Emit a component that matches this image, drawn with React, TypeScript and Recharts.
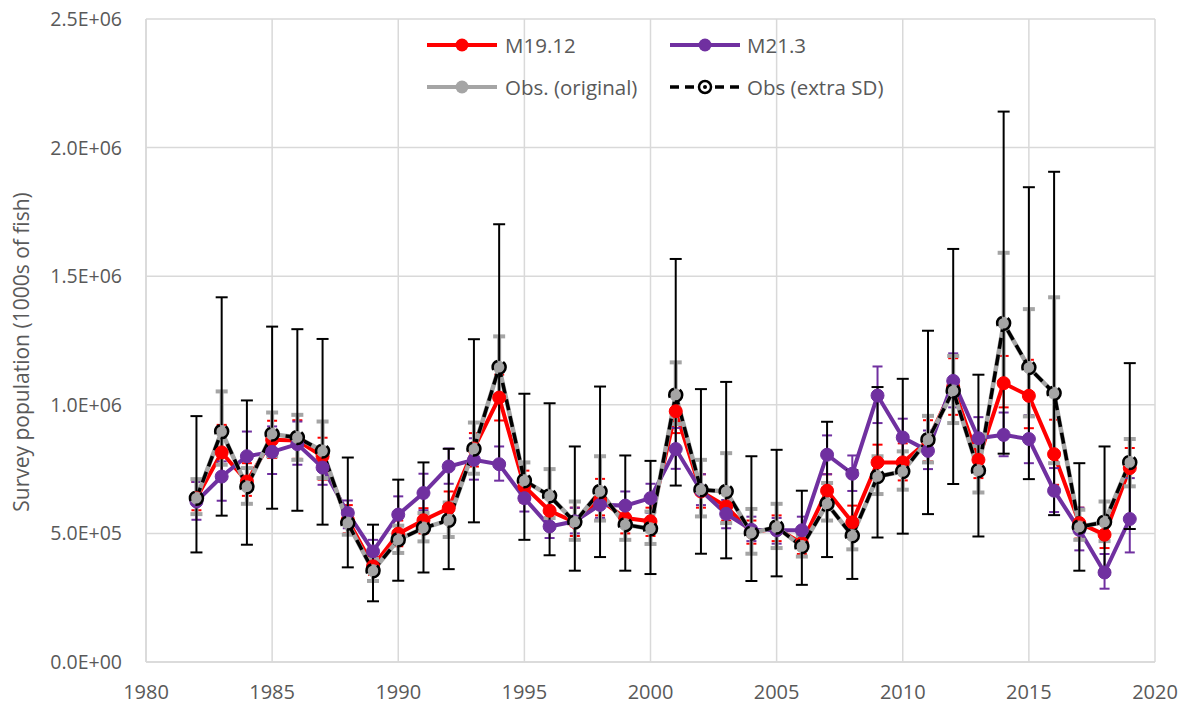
import React from 'react';
import { ComposedChart, Line, XAxis, YAxis, CartesianGrid, ErrorBar } from 'recharts';

const years = [1982, 1983, 1984, 1985, 1986, 1987, 1988, 1989, 1990, 1991, 1992, 1993, 1994, 1995, 1996, 1997, 1998, 1999, 2000, 2001, 2002, 2003, 2004, 2005, 2006, 2007, 2008, 2009, 2010, 2011, 2012, 2013, 2014, 2015, 2016, 2017, 2018, 2019];

// values in millions of (1000s of fish)
const obs = [0.637, 0.896, 0.681, 0.886, 0.873, 0.820, 0.540, 0.355, 0.475, 0.521, 0.551, 0.828, 1.146, 0.705, 0.646, 0.544, 0.663, 0.534, 0.518, 1.038, 0.670, 0.663, 0.501, 0.525, 0.449, 0.615, 0.491, 0.721, 0.741, 0.864, 1.054, 0.744, 1.317, 1.145, 1.045, 0.525, 0.544, 0.776];
const obsLow = [0.575, 0.767, 0.615, 0.800, 0.786, 0.715, 0.495, 0.315, 0.424, 0.469, 0.486, 0.732, 1.040, 0.640, 0.560, 0.475, 0.550, 0.475, 0.459, 0.925, 0.566, 0.540, 0.421, 0.443, 0.410, 0.550, 0.438, 0.653, 0.670, 0.776, 0.929, 0.659, 1.090, 0.955, 0.773, 0.475, 0.470, 0.683];
const obsHigh = [0.711, 1.052, 0.754, 0.970, 0.961, 0.935, 0.590, 0.400, 0.530, 0.579, 0.620, 0.931, 1.266, 0.776, 0.750, 0.624, 0.800, 0.600, 0.585, 1.165, 0.786, 0.812, 0.595, 0.615, 0.490, 0.696, 0.550, 0.800, 0.819, 0.957, 1.190, 0.840, 1.591, 1.372, 1.418, 0.592, 0.624, 0.867];
const extLow = [0.426, 0.569, 0.456, 0.596, 0.588, 0.534, 0.368, 0.236, 0.316, 0.348, 0.361, 0.543, 0.772, 0.475, 0.415, 0.355, 0.408, 0.355, 0.342, 0.686, 0.421, 0.403, 0.315, 0.333, 0.300, 0.408, 0.323, 0.484, 0.499, 0.575, 0.692, 0.488, 0.810, 0.711, 0.571, 0.355, 0.353, 0.517];
const extHigh = [0.956, 1.418, 1.017, 1.304, 1.294, 1.256, 0.795, 0.534, 0.709, 0.776, 0.829, 1.255, 1.702, 1.043, 1.006, 0.838, 1.071, 0.803, 0.782, 1.567, 1.061, 1.089, 0.800, 0.825, 0.666, 0.934, 0.746, 1.069, 1.101, 1.288, 1.606, 1.117, 2.140, 1.846, 1.906, 0.773, 0.838, 1.162];

const m19 = [0.637, 0.815, 0.702, 0.864, 0.861, 0.800, 0.553, 0.372, 0.499, 0.551, 0.598, 0.830, 1.028, 0.683, 0.588, 0.544, 0.630, 0.560, 0.547, 0.975, 0.663, 0.605, 0.504, 0.520, 0.462, 0.666, 0.543, 0.776, 0.776, 0.860, 1.070, 0.786, 1.084, 1.035, 0.808, 0.540, 0.495, 0.754];
const m19Low = [0.590, 0.710, 0.646, 0.793, 0.790, 0.709, 0.500, 0.339, 0.450, 0.500, 0.540, 0.760, 0.939, 0.620, 0.530, 0.490, 0.570, 0.500, 0.490, 0.890, 0.600, 0.550, 0.460, 0.470, 0.420, 0.610, 0.490, 0.710, 0.706, 0.780, 0.961, 0.715, 0.990, 0.909, 0.689, 0.480, 0.443, 0.683];
const m19High = [0.700, 0.922, 0.773, 0.938, 0.940, 0.872, 0.610, 0.410, 0.550, 0.598, 0.663, 0.890, 1.117, 0.744, 0.650, 0.600, 0.712, 0.620, 0.600, 1.054, 0.730, 0.670, 0.550, 0.570, 0.510, 0.730, 0.608, 0.845, 0.850, 0.940, 1.181, 0.860, 1.190, 1.175, 0.942, 0.600, 0.550, 0.832];

const m21 = [0.624, 0.721, 0.800, 0.817, 0.847, 0.756, 0.579, 0.430, 0.573, 0.657, 0.760, 0.786, 0.769, 0.637, 0.527, 0.547, 0.611, 0.608, 0.637, 0.828, 0.667, 0.576, 0.514, 0.512, 0.512, 0.806, 0.732, 1.036, 0.873, 0.821, 1.093, 0.870, 0.883, 0.867, 0.666, 0.514, 0.348, 0.556];
const m21Low = [0.553, 0.627, 0.709, 0.731, 0.767, 0.689, 0.520, 0.390, 0.510, 0.590, 0.693, 0.709, 0.705, 0.585, 0.482, 0.500, 0.560, 0.555, 0.580, 0.751, 0.610, 0.520, 0.470, 0.460, 0.465, 0.730, 0.665, 0.929, 0.790, 0.750, 0.990, 0.790, 0.800, 0.773, 0.583, 0.434, 0.285, 0.426];
const m21High = [0.700, 0.780, 0.896, 0.916, 0.935, 0.830, 0.628, 0.475, 0.644, 0.732, 0.830, 0.870, 0.838, 0.700, 0.580, 0.600, 0.670, 0.663, 0.693, 0.910, 0.730, 0.630, 0.565, 0.560, 0.565, 0.881, 0.803, 1.149, 0.946, 0.900, 1.200, 0.952, 0.970, 0.960, 0.754, 0.600, 0.420, 0.715];

const xTicks = [1980, 1985, 1990, 1995, 2000, 2005, 2010, 2015, 2020];
const yTicks = [0, 500000, 1000000, 1500000, 2000000, 2500000];

const SCALE = 1e6;
const data = years.map((year, i) => ({
  year,
  m19: m19[i] * SCALE,
  m19Err: [(m19[i] - m19Low[i]) * SCALE, (m19High[i] - m19[i]) * SCALE],
  m21: m21[i] * SCALE,
  m21Err: [(m21[i] - m21Low[i]) * SCALE, (m21High[i] - m21[i]) * SCALE],
  obs: obs[i] * SCALE,
  obsErr: [(obs[i] - obsLow[i]) * SCALE, (obsHigh[i] - obs[i]) * SCALE],
  ext: obs[i] * SCALE,
  extErr: [(obs[i] - extLow[i]) * SCALE, (extHigh[i] - obs[i]) * SCALE],
}));

const fmtSci = (v: number) => {
  if (v === 0) return '0.0E+00';
  const e = Math.floor(Math.log10(v) + 1e-9);
  const m = v / Math.pow(10, e);
  return `${m.toFixed(1)}E+${String(e).padStart(2, '0')}`;
};

const FONT = '"Open Sans", "Noto Sans", sans-serif';
const TXT = '#595959';
const RED = '#FF0000';
const PURPLE = '#7030A0';
const GRAY = '#A5A5A5';

const LegendBox = () => (
  <svg width={500} height={80} style={{ display: 'block' }}>
    <g fontFamily={FONT} fontSize={20.5} fill={TXT}>
      <line x1={8} y1={17} x2={78} y2={17} stroke={RED} strokeWidth={4} />
      <circle cx={43} cy={17} r={6.5} fill={RED} />
      <text x={86} y={24.5}>M19.12</text>
      <line x1={251} y1={17} x2={321} y2={17} stroke={PURPLE} strokeWidth={4} />
      <circle cx={286} cy={17} r={6.5} fill={PURPLE} />
      <text x={328} y={24.5}>M21.3</text>
      <line x1={8} y1={59} x2={78} y2={59} stroke={GRAY} strokeWidth={4} />
      <circle cx={43} cy={59} r={6.5} fill={GRAY} />
      <text x={86} y={66.5}>Obs. (original)</text>
      <line x1={251} y1={59} x2={321} y2={59} stroke="#000" strokeWidth={3.5} strokeDasharray="9 6" />
      <circle cx={286} cy={59} r={6} fill="#fff" stroke="#000" strokeWidth={2.5} />
      <circle cx={286} cy={59} r={2} fill="#000" />
      <text x={328} y={66.5}>Obs (extra SD)</text>
    </g>
  </svg>
);

export default function App() {
  return (
    <div style={{ width: 1179, height: 700, position: 'relative' }}>
      <ComposedChart
        width={1179}
        height={700}
        data={data}
        margin={{ top: 11, right: 32, bottom: 6, left: 58 }}
      >
        <CartesianGrid stroke="#D9D9D9" strokeWidth={1.5} />
        <XAxis
          dataKey="year"
          type="number"
          domain={[1980, 2020]}
          ticks={xTicks}
          tickLine={false}
          tickSize={0}
          tickMargin={23}
          height={40}
          axisLine={{ stroke: '#D9D9D9', strokeWidth: 1.5 }}
          tick={{ fill: TXT, fontSize: 20, fontFamily: FONT }}
          allowDataOverflow
        />
        <YAxis
          type="number"
          domain={[0, 2500000]}
          ticks={yTicks}
          tickFormatter={fmtSci}
          tickLine={false}
          tickSize={0}
          tickMargin={24}
          width={80}
          axisLine={{ stroke: '#D9D9D9', strokeWidth: 1.5 }}
          tick={{ fill: TXT, fontSize: 19.5, fontFamily: FONT }}
          allowDataOverflow
        />
        <Line
          dataKey="m19"
          stroke={RED}
          strokeWidth={4}
          dot={{ r: 6.5, fill: RED, stroke: RED, strokeWidth: 1 }}
          isAnimationActive={false}
        >
          <ErrorBar dataKey="m19Err" direction="y" width={5} stroke={RED} strokeWidth={2} />
        </Line>
        <Line
          dataKey="m21"
          stroke={PURPLE}
          strokeWidth={4}
          dot={{ r: 6.5, fill: PURPLE, stroke: PURPLE, strokeWidth: 1 }}
          isAnimationActive={false}
        >
          <ErrorBar dataKey="m21Err" direction="y" width={5} stroke={PURPLE} strokeWidth={2} />
        </Line>
        <Line
          dataKey="obs"
          stroke={GRAY}
          strokeWidth={4.5}
          dot={{ r: 6, fill: GRAY, stroke: GRAY, strokeWidth: 1 }}
          isAnimationActive={false}
        >
          <ErrorBar dataKey="obsErr" direction="y" width={6} stroke={GRAY} strokeWidth={4} />
        </Line>
        <Line
          dataKey="ext"
          stroke="#000"
          strokeWidth={3.5}
          strokeDasharray="11 6"
          dot={{ r: 6.5, fill: 'none', stroke: '#000', strokeWidth: 2.5 }}
          isAnimationActive={false}
        >
          <ErrorBar dataKey="extErr" direction="y" width={6} stroke="#000" strokeWidth={2} />
        </Line>
      </ComposedChart>
      <div style={{ position: 'absolute', left: 411, top: 20, width: 500, height: 80 }}>
        <LegendBox />
      </div>
      <svg width={40} height={700} style={{ position: 'absolute', left: 0, top: 0, pointerEvents: 'none' }}>
        <text
          x={13}
          y={344}
          transform="rotate(-90 13 344)"
          textAnchor="middle"
          dominantBaseline="central"
          fontFamily={FONT}
          fontSize={21}
          fill={TXT}
        >
          Survey population (1000s of fish)
        </text>
      </svg>
    </div>
  );
}
